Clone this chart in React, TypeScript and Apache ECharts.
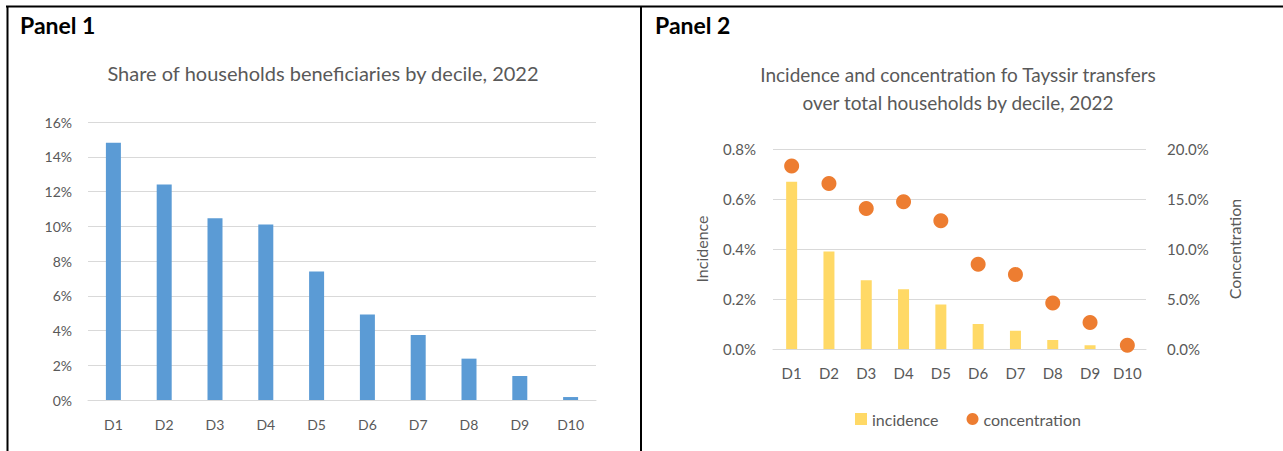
import React, { useEffect, useRef } from "react";
import * as echarts from "echarts";

const deciles = ["D1", "D2", "D3", "D4", "D5", "D6", "D7", "D8", "D9", "D10"];
const shareBeneficiaries = [14.8, 12.4, 10.46, 10.1, 7.4, 4.92, 3.74, 2.38, 1.38, 0.17];
const incidence = [0.669, 0.39, 0.275, 0.239, 0.178, 0.1, 0.073, 0.036, 0.015, 0.002];
const concentration = [18.3, 16.56, 14.06, 14.72, 12.82, 8.48, 7.45, 4.61, 2.64, 0.37];

const panel1Title = "Share of households beneficiaries by decile, 2022";
const panel2Title = "Incidence and concentration fo Tayssir transfers\nover total households by decile, 2022";

const FONT = "Lato, 'Open Sans', sans-serif";
const TXT = "#595959";
const GRIDC = "#D9D9D9";

export default function App() {
  const ref = useRef<HTMLDivElement>(null);
  useEffect(() => {
    if (!ref.current) return;
    const chart = echarts.init(ref.current, null, { renderer: "svg" });
    const axisLabel = { color: TXT, fontSize: 14, fontFamily: FONT };
    const axisLabel2 = { color: TXT, fontSize: 15, fontFamily: FONT };
    chart.setOption({
      animation: false,
      textStyle: { fontFamily: FONT },
      title: [
        {
          text: panel1Title,
          left: 323,
          top: 63,
          padding: 0,
          textAlign: "center",
          textStyle: { color: TXT, fontSize: 20, fontWeight: "normal", fontFamily: FONT },
        },
        {
          text: panel2Title,
          left: 958,
          top: 60,
          padding: 0,
          textAlign: "center",
          textStyle: { color: TXT, fontSize: 19, fontWeight: "normal", fontFamily: FONT, lineHeight: 28 },
        },
      ],
      grid: [
        { left: 88, right: 687, top: 122, bottom: 51 },
        { left: 773, right: 137, top: 149, bottom: 102 },
      ],
      xAxis: [
        {
          type: "category",
          gridIndex: 0,
          data: deciles,
          axisLine: { lineStyle: { color: GRIDC } },
          axisTick: { show: false },
          axisLabel: { ...axisLabel, margin: 17, interval: 0 },
        },
        {
          type: "category",
          gridIndex: 1,
          data: deciles,
          axisLine: { lineStyle: { color: GRIDC } },
          axisTick: { show: false },
          axisLabel: { ...axisLabel2, margin: 16, interval: 0 },
        },
      ],
      yAxis: [
        {
          type: "value",
          gridIndex: 0,
          min: 0,
          max: 16,
          interval: 2,
          axisLabel: { ...axisLabel, margin: 16, formatter: "{value}%" },
          splitLine: { lineStyle: { color: GRIDC } },
          axisLine: { show: false },
        },
        {
          type: "value",
          gridIndex: 1,
          min: 0,
          max: 0.8,
          interval: 0.2,
          name: "Incidence",
          nameLocation: "middle",
          nameRotate: 90,
          nameGap: 64,
          nameTextStyle: { color: TXT, fontSize: 16, fontFamily: FONT },
          axisLabel: { ...axisLabel2, margin: 17, formatter: (v: number) => v.toFixed(1) + "%" },
          splitLine: { lineStyle: { color: GRIDC } },
          axisLine: { show: false },
        },
        {
          type: "value",
          gridIndex: 1,
          position: "right",
          min: 0,
          max: 20,
          interval: 5,
          name: "Concentration",
          nameLocation: "middle",
          nameRotate: 90,
          nameGap: 80,
          nameTextStyle: { color: TXT, fontSize: 16, fontFamily: FONT },
          axisLabel: { ...axisLabel2, margin: 21, formatter: (v: number) => v.toFixed(1) + "%" },
          splitLine: { show: false },
          axisLine: { show: false },
        },
      ],
      legend: {
        left: 855,
        top: 411,
        padding: 0,
        itemWidth: 12,
        itemHeight: 12,
        itemGap: 28,
        textStyle: { color: TXT, fontSize: 16, fontFamily: FONT },
        data: [
          { name: "incidence", icon: "rect" },
          { name: "concentration", icon: "circle" },
        ],
      },
      series: [
        {
          type: "bar",
          name: "share",
          xAxisIndex: 0,
          yAxisIndex: 0,
          data: shareBeneficiaries,
          barWidth: 15,
          itemStyle: { color: "#5B9BD5" },
        },
        {
          type: "bar",
          name: "incidence",
          xAxisIndex: 1,
          yAxisIndex: 1,
          data: incidence,
          barWidth: 11,
          itemStyle: { color: "#FFD966" },
        },
        {
          type: "scatter",
          name: "concentration",
          xAxisIndex: 1,
          yAxisIndex: 2,
          data: concentration,
          symbol: "circle",
          symbolSize: 15,
          itemStyle: { color: "#ED7D31", opacity: 1 },
        },
      ],
      graphic: [
        { type: "line", shape: { x1: 6, y1: 6.5, x2: 1283, y2: 6.5 }, style: { stroke: "#000", lineWidth: 2 } },
        { type: "line", shape: { x1: 7.5, y1: 6, x2: 7.5, y2: 451 }, style: { stroke: "#000", lineWidth: 2 } },
        { type: "line", shape: { x1: 641, y1: 6, x2: 641, y2: 451 }, style: { stroke: "#000", lineWidth: 2 } },
        {
          type: "text",
          left: 20,
          top: 13,
          style: { text: "Panel 1", fill: "#000", font: `bold 23px ${FONT}` },
        },
        {
          type: "text",
          left: 655,
          top: 13,
          style: { text: "Panel 2", fill: "#000", font: `bold 23px ${FONT}` },
        },
      ],
    });
    return () => chart.dispose();
  }, []);
  return (
    <div
      ref={ref}
      style={{ position: "fixed", left: 0, top: 0, width: 1283, height: 451, background: "#fff" }}
    />
  );
}
